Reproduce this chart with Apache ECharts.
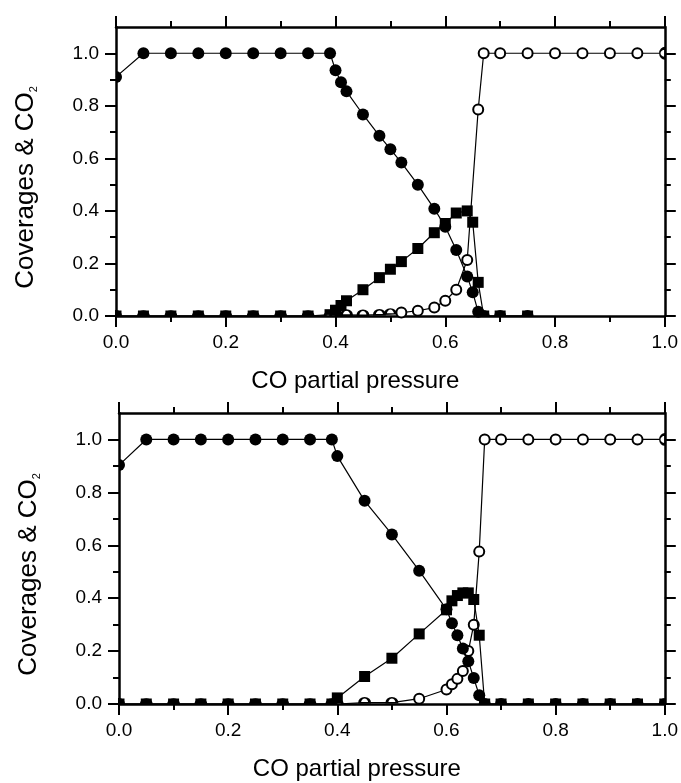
<!DOCTYPE html>
<html><head><meta charset="utf-8">
<script src="https://cdn.jsdelivr.net/npm/echarts@6/dist/echarts.min.js"></script>
<style>html,body{margin:0;padding:0;background:#fff}#c{width:681px;height:783px}</style>
</head><body><div id="c"></div>
<script>
// ---------- Top panel ----------
const topOxX  = [0,0.05,0.1,0.15,0.2,0.25,0.3,0.35,0.39,0.40,0.41,0.42,0.45,0.48,0.50,0.52,0.55,0.58,0.60,0.62,0.64,0.65,0.66,0.67,0.70,0.75];
const topOxY  = [0.91,1,1,1,1,1,1,1,1,0.935,0.89,0.855,0.767,0.686,0.635,0.584,0.50,0.408,0.34,0.251,0.15,0.09,0.016,0,0,0];
const topCO2X = [0,0.05,0.1,0.15,0.2,0.25,0.3,0.35,0.39,0.40,0.41,0.42,0.45,0.48,0.50,0.52,0.55,0.58,0.60,0.62,0.64,0.65,0.66,0.67,0.70,0.75];
const topCO2Y = [0,0,0,0,0,0,0,0,0.005,0.022,0.04,0.058,0.10,0.146,0.178,0.207,0.257,0.317,0.352,0.392,0.40,0.357,0.128,0,0,0];
const topCOX  = [0,0.05,0.1,0.15,0.2,0.25,0.3,0.35,0.39,0.40,0.41,0.42,0.45,0.48,0.50,0.52,0.55,0.58,0.60,0.62,0.64,0.66,0.67,0.70,0.75,0.80,0.85,0.90,0.95,1.0];
const topCOY  = [0,0,0,0,0,0,0,0,0,0,0.002,0.004,0.003,0.005,0.008,0.013,0.02,0.032,0.058,0.10,0.213,0.786,1,1,1,1,1,1,1,1];

// ---------- Bottom panel ----------
const botOxX  = [0,0.05,0.1,0.15,0.2,0.25,0.3,0.35,0.39,0.40,0.45,0.50,0.55,0.60,0.61,0.62,0.63,0.64,0.65,0.66,0.67,0.70,0.75,0.80,0.85,0.90,0.95,1.0];
const botOxY  = [0.903,1,1,1,1,1,1,1,1,0.937,0.768,0.641,0.504,0.358,0.305,0.26,0.21,0.162,0.098,0.033,0,0,0,0,0,0,0,0];
const botCO2X = [0,0.05,0.1,0.15,0.2,0.25,0.3,0.35,0.39,0.40,0.45,0.50,0.55,0.60,0.61,0.62,0.63,0.64,0.65,0.66,0.67,0.70,0.75,0.80,0.85,0.90,0.95,1.0];
const botCO2Y = [0,0,0,0,0,0,0,0,0,0.023,0.104,0.173,0.265,0.356,0.39,0.41,0.42,0.42,0.395,0.26,0,0,0,0,0,0,0,0];
const botCOX  = [0,0.05,0.1,0.15,0.2,0.25,0.3,0.35,0.39,0.40,0.45,0.50,0.55,0.60,0.61,0.62,0.63,0.64,0.65,0.66,0.67,0.70,0.75,0.80,0.85,0.90,0.95,1.0];
const botCOY  = [0,0,0,0,0,0,0,0,0,0,0.005,0.005,0.02,0.055,0.075,0.095,0.125,0.20,0.30,0.576,1,1,1,1,1,1,1,1];

// ---------- Axis ticks ----------
const xMin = 0, xMax = 1.0, xStep = 0.2;
const yMin = 0, yMax = 1.1;
const yMajorTicks = [0,0.2,0.4,0.6,0.8,1.0];
const yMinorTicks = [0.1,0.3,0.5,0.7,0.9];
const xTitle = 'CO partial pressure';
const yTitle = 'Coverages & CO{s|2}';

const FONT = 'Liberation Sans, Arial, Helvetica, sans-serif';
const BLACK = '#000';

// Marker clipped at the plot frame (as in the original figure)
const HALF_UP = 'path://M0,1 A1,1 0 0 1 2,1 Z';
const HALF_RIGHT = 'path://M0,0 A1,1 0 0 1 0,2 Z';
const HALF_LEFT = 'path://M1,0 A1,1 0 0 0 1,2 Z';
const Q_UL = 'path://M1,1 L0,1 A1,1 0 0 1 1,0 Z';
const Q_UR = 'path://M0,1 L0,0 A1,1 0 0 1 1,1 Z';

function point(x, y, kind, s) {
  const atL = x <= 1e-6, atR = x >= 1 - 1e-6, atB = y <= 0.01;
  const isRect = kind === 'square';
  const item = { value: [x, y] };
  if (atB && atR) {
    item.symbol = isRect ? 'rect' : Q_UL; item.symbolSize = [s/2, s/2]; item.symbolOffset = ['-50%', '-50%'];
  } else if (atB && atL) {
    item.symbol = isRect ? 'rect' : Q_UR; item.symbolSize = [s/2, s/2]; item.symbolOffset = ['50%', '-50%'];
  } else if (atB) {
    item.symbol = isRect ? 'rect' : HALF_UP; item.symbolSize = [s, s/2]; item.symbolOffset = [0, '-50%'];
  } else if (atL) {
    item.symbol = isRect ? 'rect' : HALF_RIGHT; item.symbolSize = [s/2, s]; item.symbolOffset = ['50%', 0];
  } else if (atR) {
    item.symbol = isRect ? 'rect' : HALF_LEFT; item.symbolSize = [s/2, s]; item.symbolOffset = ['-50%', 0];
  }
  return item;
}

function series(xs, ys, kind, g, z) {
  const s = kind === 'square' ? 11 : (kind === 'open' ? 10 : 12);
  return {
    type: 'line', xAxisIndex: g * 2, yAxisIndex: g * 4, z: z,
    data: xs.map((x, i) => point(x, ys[i], kind, s)),
    symbol: kind === 'square' ? 'rect' : 'circle', symbolSize: s, showSymbol: true,
    lineStyle: { color: BLACK, width: 1.2 },
    itemStyle: kind === 'open' ? { color: '#fff', borderColor: BLACK, borderWidth: 2 } : { color: BLACK, borderWidth: 0 },
    clip: false, silent: true, animation: false, emphasis: { disabled: true }
  };
}

const axisLine = { show: true, onZero: false, lineStyle: { color: BLACK, width: 2.5 } };
const tickStyle = { color: BLACK, width: 2 };
const labelStyle = { color: BLACK, fontSize: 19, fontFamily: FONT, margin: 17 };

function xAxes(g) {
  const base = { gridIndex: g, type: 'value', min: xMin, max: xMax, interval: xStep,
    axisLine: axisLine, splitLine: { show: false },
    axisTick: { show: true, length: 11, lineStyle: tickStyle },
    minorTick: { show: true, splitNumber: 2, length: 6, lineStyle: tickStyle } };
  return [
    Object.assign({}, base, { position: 'bottom',
      axisLabel: Object.assign({}, labelStyle, { formatter: v => v.toFixed(1) }),
      name: xTitle, nameLocation: 'middle', nameGap: 53,
      nameTextStyle: { color: BLACK, fontSize: 24, fontFamily: FONT, padding: [0, 70, 0, 0] } }),
    Object.assign({}, base, { position: 'top', axisLabel: { show: false } })
  ];
}

function yAxes(g) {
  const base = { gridIndex: g, type: 'value', min: yMin, max: yMax, splitLine: { show: false } };
  const major = pos => Object.assign({}, base, { position: pos, axisLine: axisLine,
    axisTick: { show: true, length: 11, lineStyle: tickStyle, customValues: yMajorTicks } });
  const minor = pos => Object.assign({}, base, { position: pos, axisLine: { show: false, onZero: false },
    axisLabel: { show: false },
    axisTick: { show: true, length: 6, lineStyle: tickStyle, customValues: yMinorTicks } });
  return [
    Object.assign(major('left'), {
      axisLabel: Object.assign({}, labelStyle, { customValues: yMajorTicks, formatter: v => v.toFixed(1) }),
      name: yTitle, nameLocation: 'middle', nameGap: 77,
      nameTextStyle: { color: BLACK, fontSize: 26, fontFamily: FONT, padding: [0, 32, 0, 0],
        rich: { s: { fontSize: 11, fontFamily: FONT, color: BLACK, verticalAlign: 'bottom' } } } }),
    minor('left'),
    Object.assign(major('right'), { axisLabel: { show: false } }),
    minor('right')
  ];
}

const chart = echarts.init(document.getElementById('c'), null, { renderer: 'canvas' });
chart.setOption({
  backgroundColor: '#fff',
  animation: false,
  grid: [
    { left: 116, top: 27, width: 550, height: 289 },
    { left: 119, top: 413, width: 548, height: 291 }
  ],
  xAxis: xAxes(0).concat(xAxes(1)),
  yAxis: yAxes(0).concat(yAxes(1)),
  series: [
    series(topCOX, topCOY, 'open', 0, 2),
    series(topOxX, topOxY, 'filled', 0, 3),
    series(topCO2X, topCO2Y, 'square', 0, 4),
    series(botCOX, botCOY, 'open', 1, 2),
    series(botOxX, botOxY, 'filled', 1, 3),
    series(botCO2X, botCO2Y, 'square', 1, 4)
  ]
});
</script>
</body></html>
